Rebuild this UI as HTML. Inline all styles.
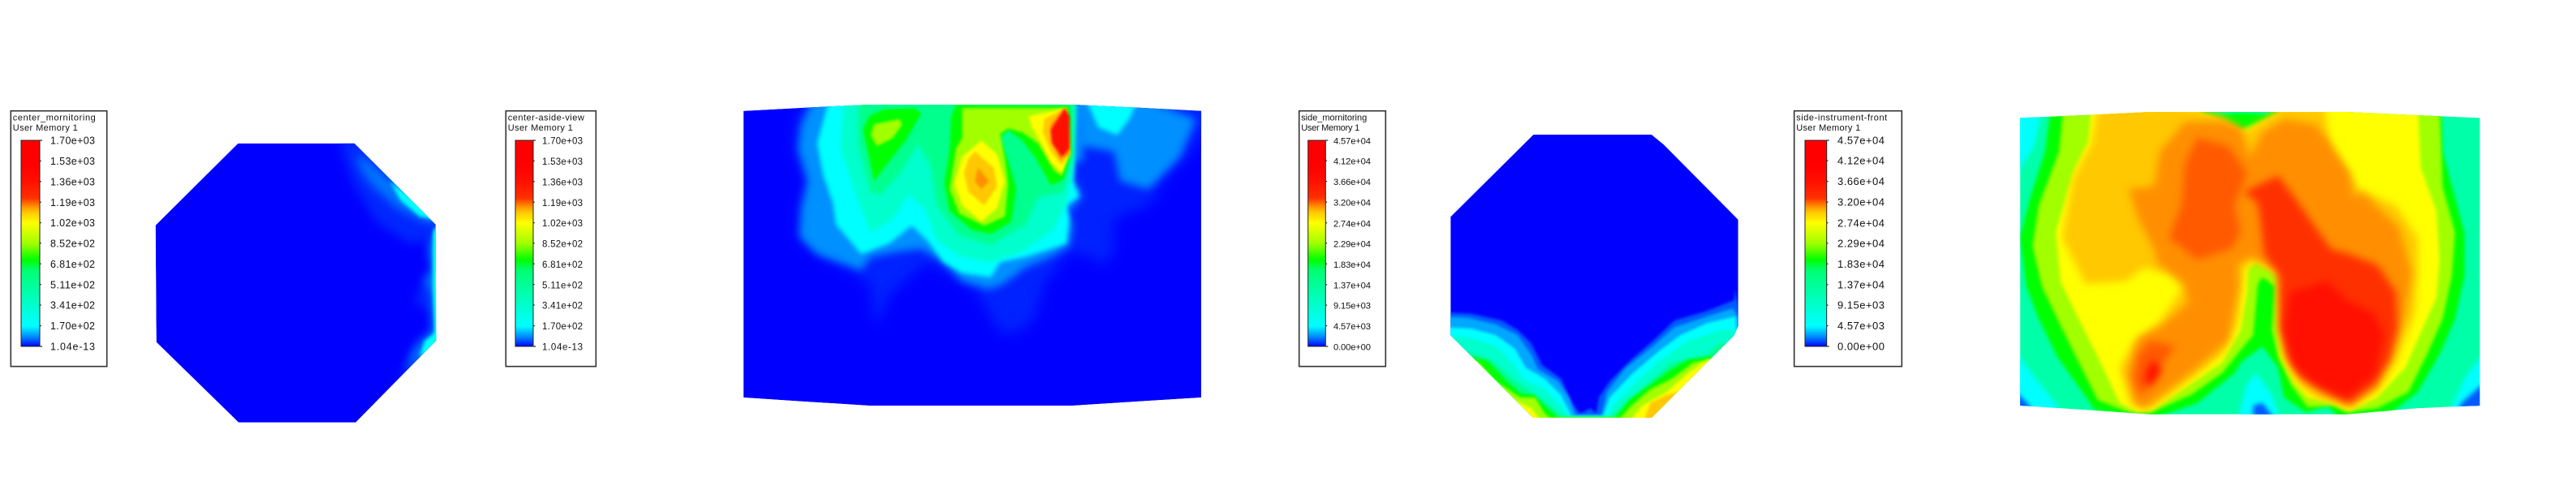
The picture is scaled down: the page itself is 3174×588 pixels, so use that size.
<!DOCTYPE html>
<html lang="en">
<head>
<meta charset="utf-8">
<title>User Memory contour views</title>
<style>
html,body{margin:0;padding:0;background:#fff;}
body{width:3174px;height:588px;overflow:hidden;}
svg{display:block;}
text{font-family:"Liberation Sans",sans-serif;fill:#111;}
</style>
</head>
<body>
<svg id="figure" xmlns="http://www.w3.org/2000/svg" width="3174" height="588" viewBox="0 0 3174 588">
<defs></defs>
<rect width="3174" height="588" fill="#ffffff"/>
</svg>
<script>
/* ---------- colour scale (fraction of range -> colour) ---------- */
const colormapStops = [0, .02, .05, .085, .1, .2, .3, .37, .42, .5, .6, .65, .68, .72, .8, .88, 1];
const colormapColors = ['#0000ff','#0040ff','#0090ff','#00e0ff','#00ffff','#00ffcc','#00ff99','#00ff70','#00ff00','#a0ff00','#ffff00','#ffc800','#ff9000','#ff3000','#ff1000','#ff0000','#ff0000'];

/* ---------- legend tick labels ---------- */
const centerTicks = ['1.04e-13','1.70e+02','3.41e+02','5.11e+02','6.81e+02','8.52e+02','1.02e+03','1.19e+03','1.36e+03','1.53e+03','1.70e+03'];
const sideTicks = ['0.00e+00','4.57e+03','9.15e+03','1.37e+04','1.83e+04','2.29e+04','2.74e+04','3.20e+04','3.66e+04','4.12e+04','4.57e+04'];
const centerMax = 1700;
const sideMax = 45700;

/* ---------- field contours: level value and outline in mesh units ---------- */
const panel1Outline = [370,80,800,80,1100,380,1102,810,805,1112,372,1112,68,815,65,383];
const panel1Base = 0;
const panel1Levels = [20, 70, 170, 341];
const panel1Contours = [
 [[745,60,820,60,1130,380,1090,440,1000,450,880,370,800,240,760,130],
  [1090,430,1130,430,1130,820,950,980,1010,860,1050,800,1090,780,1080,700,1020,670,1055,590,1090,550,1075,480]],
 [[810,110,1130,380,1060,370,960,320,860,230,820,170],
  [1085,430,1130,430,1130,810,990,930,1020,840,1060,800,1090,770,1085,630,1055,590,1090,545,1075,480]],
 [[930,220,1130,370,1040,350,970,290],
  [1092,400,1130,400,1130,825,1040,870,1060,810,1098,780,1090,620,1090,420]],
 [[1097,390,1130,390,1130,820,1092,815,1100,760]]
];

const panel2Outline = [67,80,260,68,465,57,1110,57,1320,68,1517,80,1517,1140,1310,1155,1110,1170,465,1170,260,1155,67,1140];
const panel2Base = 0;
const panel2Levels = [18, 85, 170, 341, 545, 714, 852, 1020, 1105, 1156, 1360];
const panel2Contours = [
 [[270,30,235,120,230,230,265,340,245,430,240,550,310,620,420,680,470,730,480,860,500,850,530,760,650,640,740,700,800,740,830,800,880,900,930,900,990,850,1020,720,1100,600,1170,620,1210,650,1240,600,1240,480,1350,430,1400,340,1480,240,1540,130,1540,30]],
 [[290,30,250,130,240,220,270,340,250,440,245,545,300,610,440,670,470,620,560,600,630,590,700,640,760,710,845,740,890,720,960,660,1040,620,1100,580,1110,500,1090,460,1140,400,1120,350,1110,340,1115,270,1145,260,1135,170,1130,30],
  [1130,30,1140,210,1240,230,1260,340,1350,370,1450,250,1500,110,1320,30]],
 [[340,30,300,200,320,320,350,420,360,500,440,610,530,570,600,505,650,560,700,640,760,680,850,695,880,640,960,620,1040,590,1090,570,1100,480,1090,430,1130,395,1110,340,1115,100,1110,30],
  [1150,30,1190,140,1250,170,1290,110,1320,30]],
 [[385,30,375,220,420,380,470,530,540,480,590,390,640,440,680,560,760,620,850,640,950,600,1050,520,1090,420,1110,300,1120,30]],
 [[430,30,430,200,470,380,500,390,570,300,620,200,660,280,680,430,750,540,850,575,960,500,1000,400,1080,380,1110,260,1115,30]],
 [[510,75,610,70,630,90,580,190,480,340,465,250,445,150,465,100],
  [740,58,1100,62,1105,230,1080,335,1040,355,1020,310,990,250,950,190,905,150,880,180,915,300,930,370,915,490,850,535,790,520,720,450,703,350,720,220,725,100]],
 [[480,130,560,110,570,130,540,180,490,210,470,170],
  [760,70,1090,70,1095,230,1075,320,1050,300,1000,200,950,160,905,145,880,165,895,260,905,350,895,470,830,505,750,460,720,370,740,220,760,180]],
 [[820,190,870,240,895,340,870,440,820,490,760,430,735,350,760,250],
  [970,100,1090,70,1100,240,1075,310,1040,270,1005,190,980,140]],
 [[800,230,860,290,870,360,830,430,780,380,765,310,780,255],
  [1020,110,1085,70,1100,240,1075,280,1040,230,1015,160]],
 [[810,290,845,340,820,370,800,340],
  [1040,130,1085,70,1100,240,1070,260,1040,190]],
 [[1040,150,1085,70,1100,100,1100,220,1075,250,1045,200]]
];

const panel3Outline = [358,48,795,48,840,85,1115,362,1115,755,1100,790,795,1095,358,1095,52,790,52,352];
const panel3Base = 0;
const panel3Levels = [1371, 2742, 4570, 9150, 14600, 19200, 22900, 27400, 29700];
const panel3Contours = [
 [[30,705,130,710,240,735,300,770,350,820,390,900,460,950,500,1040,530,1080,570,1060,590,1080,600,1020,640,960,720,880,800,810,880,735,1000,700,1100,660,1102,620,1135,760,1135,1125,30,1125]],
 [[30,720,120,725,220,750,300,790,350,860,375,915,450,960,490,1020,515,1085,610,1085,630,1000,700,910,800,830,880,760,1000,720,1095,690,1135,755,1135,1125,30,1125]],
 [[30,760,130,765,220,790,290,840,330,910,400,950,460,1010,500,1090,615,1090,640,1020,720,935,820,850,900,790,1000,745,1105,720,1135,1125,30,1125]],
 [[30,790,130,800,220,830,280,890,320,950,400,990,450,1040,490,1090,630,1090,660,1040,740,960,830,880,930,810,1050,770,1135,770,1135,1125,30,1125]],
 [[30,820,140,860,200,880,280,950,350,1000,420,1050,470,1095,640,1095,700,1040,790,960,870,890,1000,860,1050,820,1135,820,1135,1125,30,1125]],
 [[30,870,140,872,190,885,250,950,310,1005,360,1010,410,1060,450,1095,660,1095,710,1030,800,965,870,915,930,880,1010,870,1135,870,1135,1125,30,1125]],
 [[30,885,150,885,220,960,310,1020,365,1020,400,1080,420,1095,680,1095,720,1050,790,990,870,950,950,890,1010,880,1135,880,1135,1125,30,1125]],
 [[30,900,160,900,240,1000,310,1040,350,1060,400,1125,30,1125],
  [700,1125,760,1050,850,1000,930,930,1000,880,1135,880,1135,1125]],
 [[220,990,300,1050,350,1090,360,1125,260,1125],
  [760,1125,790,1040,850,1010,900,1000,1000,1000,900,1125]]
];

const panel4Outline = [50,76,270,65,465,54,1100,54,1310,65,1530,76,1530,1140,1330,1150,1100,1172,470,1172,290,1158,50,1140];
const panel4Base = 12300;
const panel4Levels = [19200, 22900, 27400, 29700, 31100, 32100, 32900, 36600, 36600, 4570, 4570, 4570, 4570, 1371, 1371, 0, 1371];
const panel4Contours = [
 [[150,30,130,200,80,380,50,520,70,700,110,820,170,960,250,1090,290,1155,420,1190,470,1190,620,1130,740,1020,760,980,830,920,880,1000,900,1110,970,1165,1040,1140,1080,1190,1190,1190,1250,1160,1330,1090,1400,950,1450,820,1480,660,1480,500,1440,330,1410,200,1405,30,910,30,840,62,770,58,700,62,560,30]],
 [[190,30,175,200,110,400,90,550,120,700,170,820,230,960,300,1120,400,1165,470,1165,600,1100,700,1020,770,920,800,880,815,690,830,665,870,700,860,860,880,960,920,1060,975,1145,1060,1140,1100,1165,1200,1150,1300,1090,1360,950,1410,820,1440,660,1450,500,1410,330,1400,30,930,30,840,80,760,120,660,85,560,30]],
 [[280,30,270,160,220,280,165,500,180,680,230,800,300,960,370,1130,430,1165,470,1160,600,1060,700,980,760,860,780,720,785,630,810,610,885,660,880,840,890,960,930,1050,975,1110,1050,1130,1110,1160,1200,1110,1290,1000,1340,870,1390,740,1400,600,1390,420,1340,260,1330,30,930,30,840,90,770,130,700,90,580,30]],
 [[300,30,280,170,220,300,185,520,260,690,390,680,450,630,540,660,570,710,500,830,420,900,370,1000,410,1140,470,1150,600,1040,700,950,750,830,770,640,800,600,880,650,885,840,900,960,950,1060,1000,1110,1060,1120,1110,1150,1200,1080,1260,980,1320,800,1330,650,1330,520,1260,400,1140,340,1110,280,1050,200,1030,30,900,30,850,70,770,130,700,70,560,30]],
 [[580,90,500,200,480,330,400,340,430,450,480,560,490,610,580,690,590,760,500,850,430,890,395,1020,420,1130,450,1150,620,1000,720,900,755,700,750,620,790,590,880,640,895,840,905,960,960,1050,1040,1110,1110,1140,1200,1070,1240,970,1290,800,1310,650,1270,480,1150,350,1125,370,1110,280,1050,170,1000,100,900,80,830,130,790,220,760,110,700,90]],
 [[620,150,580,250,570,400,530,520,620,600,730,560,760,500,740,400,760,340,780,280,720,180],
  [470,900,550,920,500,1000,440,1110,415,1040,430,950]],
 [[880,290,940,380,1000,480,1050,560,1110,580,1200,620,1260,720,1265,850,1240,970,1190,1060,1110,1130,1030,1085,950,1030,910,950,885,850,885,660,835,580,825,470,815,390,770,350]],
 [[920,720,1040,680,1100,750,1190,800,1220,880,1190,1030,1100,1110,1000,1060,930,990,900,860]],
 [[480,970,505,1010,470,1070,450,1050,460,1000]],
 [[750,1190,780,1060,810,1020,860,1100,890,1190]],
 [[30,930,100,1040,170,1140,180,1170,30,1170]],
 [[1550,930,1480,1040,1440,1140,1430,1170,1550,1170]],
 [[30,40,120,40,95,180,30,300]],
 [[800,1190,800,1140,830,1130,870,1190]],
 [[30,1080,80,1140,90,1170,30,1170]],
 [[1550,1110,1510,1135,1500,1160,1550,1160]],
 [[1550,1050,1470,1130,1460,1160,1550,1160]]
];

/* ---------- helpers ---------- */
const NS = 'http://www.w3.org/2000/svg';
const figure = document.getElementById('figure');
const defs = figure.querySelector('defs');
function make(tag, attrs, parent) {
  const node = document.createElementNS(NS, tag);
  for (const k in attrs) node.setAttribute(k, attrs[k]);
  parent.appendChild(node);
  return node;
}
function hexToRgb(h) { return [1,3,5].map(i => parseInt(h.substr(i,2),16)); }
function colorAt(t) {
  t = Math.max(0, Math.min(1, t));
  for (let i = 1; i < colormapStops.length; i++) {
    if (t <= colormapStops[i]) {
      const a = colormapStops[i-1], b = colormapStops[i];
      const f = (t - a) / (b - a || 1);
      const c0 = hexToRgb(colormapColors[i-1]), c1 = hexToRgb(colormapColors[i]);
      return 'rgb(' + c0.map((v,j) => Math.round(v + (c1[j]-v)*f)).join(',') + ')';
    }
  }
  return colormapColors[colormapColors.length-1];
}
function blurFilter(sigma) {
  const id = 'blur-' + String(sigma).replace('.', '_');
  if (!document.getElementById(id)) {
    const f = make('filter', {id:id, filterUnits:'userSpaceOnUse', x:0, y:0, width:3174, height:588, 'color-interpolation-filters':'sRGB'}, defs);
    make('feGaussianBlur', {stdDeviation:sigma}, f);
  }
  return 'url(#' + id + ')';
}

/* gradient shared by all colour bars */
const gradient = make('linearGradient', {id:'barGradient', x1:0, y1:1, x2:0, y2:0}, defs);
colormapStops.forEach((s,i) => make('stop', {offset:s, 'stop-color':colormapColors[i]}, gradient));

/* ---------- legend ---------- */
const barTop = 173, barBottom = 427;
function drawLegend(cfg) {
  const g = make('g', {}, figure);
  
  
  const yScale = v => barBottom - (v / cfg.max) * (barBottom - barTop);

  const frame = make('rect', {x:cfg.boxX, y:136.7, width:cfg.boxW, height:315, fill:'#fff', stroke:'#333', 'stroke-width':1.6}, g);
  
  

  const title = make('text', {x:cfg.boxX+2.5, y:148.5, 'font-size':cfg.titleSize, textLength:cfg.titleW, lengthAdjust:'spacing'}, g);
  title.textContent = cfg.title;
  
  

  const sub = make('text', {x:cfg.boxX+2.5, y:160.8, 'font-size':cfg.titleSize, textLength:cfg.subW, lengthAdjust:'spacing'}, g);
  sub.textContent = 'User Memory 1';
  
  

  const bar = make('rect', {x:cfg.barX, y:barTop, width:cfg.barW, height:barBottom-barTop, fill:'url(#barGradient)', stroke:'#222', 'stroke-width':1}, g);
  
  

  cfg.ticks.forEach((label, i) => {
    const y = yScale(parseFloat(label));
    const len = (i === 0 || i === cfg.ticks.length-1) ? 3 : 1.8;
    const tick = make('line', {x1:cfg.barX+cfg.barW, x2:cfg.barX+cfg.barW+len, y1:y, y2:y, stroke:'#222', 'stroke-width':1.2}, g);
    
    
    const t = make('text', {x:cfg.textX, y:y+4.6, 'font-size':cfg.tickSize, textLength:cfg.tickW, lengthAdjust:'spacing'}, g);
    t.textContent = label;
    
    
  });
}

/* ---------- contour panel ---------- */
function drawPanel(cfg) {
  const xScale = u => cfg.originX + u * cfg.unitX;
  const yScale = u => cfg.originY + u / 3;
  const points = flat => {
    const out = [];
    for (let i = 0; i < flat.length; i += 2) out.push(xScale(flat[i]).toFixed(1) + ',' + yScale(flat[i+1]).toFixed(1));
    return out.join(' ');
  };
  const clip = make('clipPath', {id:cfg.name + '-clip'}, defs);
  make('polygon', {points:points(cfg.outline)}, clip);

  const g = make('g', {'clip-path':'url(#' + cfg.name + '-clip)'}, figure);
  
  

  const base = make('polygon', {points:points(cfg.outline), fill:colorAt(cfg.base / cfg.max)}, g);
  
  

  cfg.contours.forEach((rings, i) => {
    const fill = colorAt(cfg.levels[i] / cfg.max);
    const layer = make('g', {filter:blurFilter(cfg.sigmaOf(i))}, g);
    
    
    rings.forEach(ring => {
      const poly = make('polygon', {points:points(ring), fill:fill}, layer);
      
      
    });
  });
}

drawLegend({name:'legend-center-mornitoring', boxX:13.3, boxW:118.4, barX:26, barW:23, textX:62, tickW:55, tickSize:12.5, titleSize:11, title:'center_mornitoring', titleW:102, subW:80, ticks:centerTicks, max:centerMax});
drawLegend({name:'legend-center-aside-view', boxX:623.3, boxW:111, barX:635, barW:22, textX:668, tickW:50, tickSize:11.5, titleSize:11, title:'center-aside-view', titleW:94, subW:80, ticks:centerTicks, max:centerMax});
drawLegend({name:'legend-side-mornitoring', boxX:1600.7, boxW:106.6, barX:1611.7, barW:21.6, textX:1643, tickW:46, tickSize:11.2, titleSize:11, title:'side_mornitoring', titleW:81, subW:72, ticks:sideTicks, max:sideMax});
drawLegend({name:'legend-side-instrument-front', boxX:2210.7, boxW:132.6, barX:2224, barW:26.7, textX:2264, tickW:58, tickSize:13, titleSize:11, title:'side-instrument-front', titleW:112, subW:79, ticks:sideTicks, max:sideMax});

drawPanel({name:'panel-center-mornitoring', originX:170, originY:150, unitX:1/3, outline:panel1Outline, base:panel1Base, levels:panel1Levels, contours:panel1Contours, max:centerMax, sigmaOf:i => i < 2 ? 6 : 2});
drawPanel({name:'panel-center-aside-view', originX:890, originY:110, unitX:0.389, outline:panel2Outline, base:panel2Base, levels:panel2Levels, contours:panel2Contours, max:centerMax, sigmaOf:i => i === 0 ? 8 : i === 1 ? 5 : i < 5 ? 3 : 1.5});
drawPanel({name:'panel-side-mornitoring', originX:1770, originY:150, unitX:1/3, outline:panel3Outline, base:panel3Base, levels:panel3Levels, contours:panel3Contours, max:sideMax, sigmaOf:i => 1.5});
drawPanel({name:'panel-side-instrument-front', originX:2470, originY:120, unitX:0.3827, outline:panel4Outline, base:panel4Base, levels:panel4Levels, contours:panel4Contours, max:sideMax, sigmaOf:i => i < 3 ? 2 : i < 9 ? 5 : 3});
</script>
</body>
</html>
